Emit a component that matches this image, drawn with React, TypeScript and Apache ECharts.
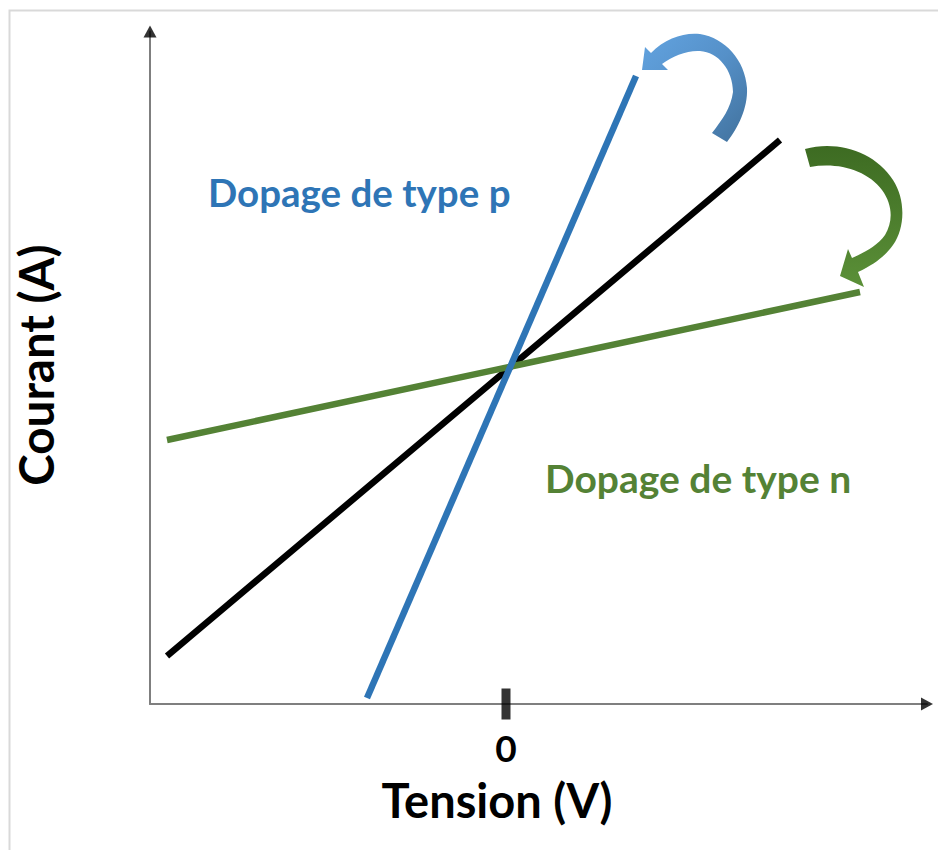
import React, { useEffect, useRef } from "react";
import * as echarts from "echarts";

// Data (Tension in arbitrary units, Courant in arbitrary units)
const xRange = [-3.56, 4.21];
const yRange = [-3.38, 3.345];
const blackLine = [
  [-3.39, -2.9],
  [2.74, 2.26],
];
const blueLine = [
  [-1.39, -3.32],
  [1.3, 2.9],
];
const greenLine = [
  [-3.39, -0.74],
  [3.54, 0.74],
];
const xTickValues = [0];

const BLUE = "#2e75b6";
const GREEN = "#548235";
const FONT = "Lato, 'Open Sans', sans-serif";

const bluePath =
  "M642 70 L645 47 L651 53 C665 38 685 32 700 34 C725 38 745 60 747 88 C748 108 738 128 727 142 L712 133 C722 120 731 108 733 92 C733 70 718 52 700 51 C688 50 672 56 662 64 L668 70 Z";
const greenPath =
  "M805 149 C838 140 875 152 893 180 C906 200 905 228 893 245 C885 256 875 264 858 272 L864 287 L840 276 L848 249 L852 258 C866 252 878 245 885 235 C893 222 893 205 882 190 C867 170 838 162 810 167 Z";

let registered = false;
function registerShapes() {
  if (registered) return;
  registered = true;
  echarts.graphic.registerShape("blueArrow", echarts.graphic.extendPath(bluePath, {}));
  echarts.graphic.registerShape("greenArrow", echarts.graphic.extendPath(greenPath, {}));
}

export default function App() {
  const ref = useRef<HTMLDivElement>(null);
  useEffect(() => {
    if (!ref.current) return;
    registerShapes();
    const chart = echarts.init(ref.current, null, { renderer: "svg" });
    chart.setOption({
      animation: false,
      backgroundColor: "#ffffff",
      grid: { left: 150, top: 31.5, right: 11, bottom: 146, containLabel: false },
      xAxis: {
        type: "value",
        min: xRange[0],
        max: xRange[1],
        splitLine: { show: false },
        axisTick: { show: false },
        axisLine: {
          show: true,
          onZero: false,
          lineStyle: { color: "#7f7f7f", width: 2 },
        },
        axisLabel: {
          customValues: xTickValues,
          formatter: (v: number) => String(Math.round(v)),
          fontFamily: FONT,
          fontWeight: "bold",
          fontSize: 37,
          color: "#000",
          margin: 25,
        },
      },
      yAxis: {
        type: "value",
        min: yRange[0],
        max: yRange[1],
        splitLine: { show: false },
        axisTick: { show: false },
        axisLabel: { show: false },
        axisLine: {
          show: true,
          onZero: false,
          lineStyle: { color: "#7f7f7f", width: 2 },
        },
      },
      series: [
        {
          type: "line",
          data: blackLine,
          symbol: "none",
          lineStyle: { color: "#000000", width: 6.5, cap: "butt" },
          z: 3,
        },
        {
          type: "line",
          data: greenLine,
          symbol: "none",
          lineStyle: { color: GREEN, width: 6.5, cap: "butt" },
          z: 4,
        },
        {
          type: "line",
          data: blueLine,
          symbol: "none",
          lineStyle: { color: BLUE, width: 6.5, cap: "butt" },
          z: 5,
        },
        {
          type: "scatter",
          data: xTickValues.map((v) => [v, yRange[0]]),
          symbol: "rect",
          symbolSize: [9, 31],
          itemStyle: { color: "#000" },
          clip: false,
          silent: true,
          z: 6,
        },
        {
          // x-axis arrowhead
          type: "scatter",
          data: [[xRange[1], yRange[0]]],
          symbol: "triangle",
          symbolSize: [13, 12],
          symbolRotate: -90,
          itemStyle: { color: "#000" },
          clip: false,
          silent: true,
          z: 6,
        },
        {
          // y-axis arrowhead
          type: "scatter",
          data: [[xRange[0], yRange[1]]],
          symbol: "triangle",
          symbolSize: [13, 12],
          itemStyle: { color: "#000" },
          clip: false,
          silent: true,
          z: 6,
        },
      ],
      graphic: [
        {
          type: "rect",
          shape: { x: 9.5, y: 10.5, width: 960, height: 900 },
          style: { fill: "none", stroke: "#d9d9d9", lineWidth: 2 },
          silent: true,
          z: 0,
        },
        {
          type: "blueArrow",
          x: 0,
          y: 0,
          style: {
            fill: new echarts.graphic.LinearGradient(0, 0, 1, 1, [
              { offset: 0, color: "#62a3e0" },
              { offset: 0.5, color: "#5590c8" },
              { offset: 1, color: "#41719c" },
            ]),
          },
          z: 10,
        },
        {
          type: "greenArrow",
          x: 0,
          y: 0,
          style: {
            fill: new echarts.graphic.LinearGradient(0, 0, 0, 1, [
              { offset: 0, color: "#3d6b22" },
              { offset: 1, color: "#5b9038" },
            ]),
          },
          z: 10,
        },
        {
          type: "text",
          x: 208,
          y: 192,
          style: {
            text: "Dopage de type p",
            fill: BLUE,
            fontFamily: FONT,
            fontWeight: "bold",
            fontSize: 38.5,
            align: "left",
            verticalAlign: "middle",
          },
          z: 10,
        },
        {
          type: "text",
          x: 545,
          y: 478,
          style: {
            text: "Dopage de type n",
            fill: GREEN,
            fontFamily: FONT,
            fontWeight: "bold",
            fontSize: 39,
            align: "left",
            verticalAlign: "middle",
          },
          z: 10,
        },
        {
          type: "text",
          x: 497,
          y: 800,
          style: {
            text: "Tension (V)",
            fill: "#000",
            fontFamily: FONT,
            fontWeight: "bold",
            fontSize: 47,
            align: "center",
            verticalAlign: "middle",
          },
          z: 10,
        },
        {
          type: "text",
          x: 35,
          y: 365,
          rotation: Math.PI / 2,
          style: {
            text: "Courant (A)",
            fill: "#000",
            fontFamily: FONT,
            fontWeight: "bold",
            fontSize: 47.5,
            align: "center",
            verticalAlign: "middle",
          },
          z: 10,
        },
      ],
    });
    return () => chart.dispose();
  }, []);
  return (
    <div
      ref={ref}
      style={{ position: "absolute", left: 0, top: 0, width: 938, height: 850 }}
    />
  );
}
